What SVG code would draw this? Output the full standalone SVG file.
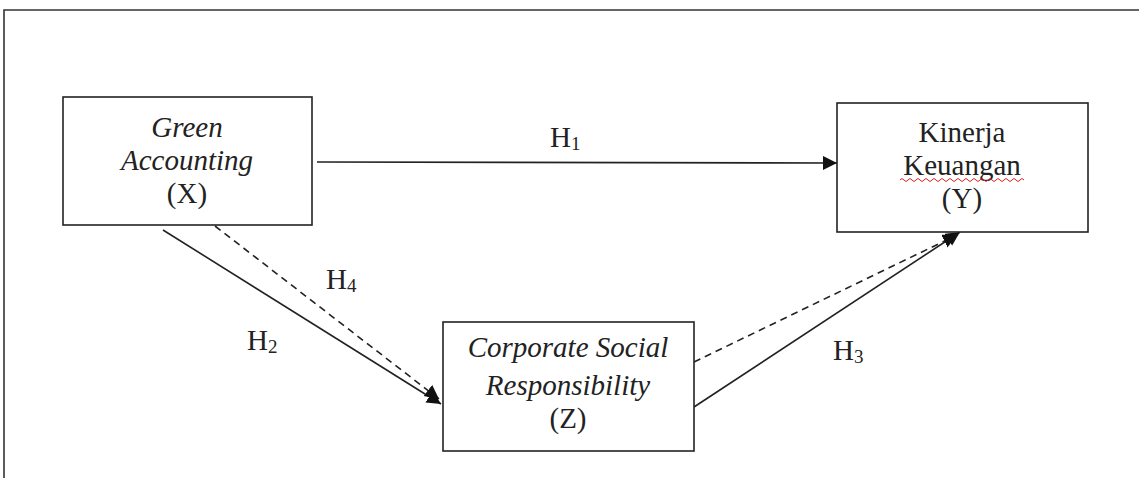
<svg xmlns="http://www.w3.org/2000/svg" width="1139" height="478" viewBox="0 0 1139 478">
<defs>
<style>
.box{fill:#fff;stroke:#222;stroke-width:1.6}
.t{font-family:"Liberation Serif","Times New Roman",serif;font-size:29px;fill:#222;text-anchor:middle}
.i{font-style:italic}
.lbl{font-family:"Liberation Serif","Times New Roman",serif;font-size:29px;fill:#222}
.sub{font-size:19px}
.ln{stroke:#222;stroke-width:1.6;fill:none}
.dash{stroke-dasharray:7 5}
</style>
<marker id="ah" markerUnits="userSpaceOnUse" markerWidth="16" markerHeight="16" refX="14" refY="7" orient="auto">
<path d="M0,0 L14,7 L0,14 Z" fill="#111"/>
</marker>
</defs>
<rect width="1139" height="478" fill="#fff"/>
<path d="M4,478 L4,10 L1139,10" fill="none" stroke="#333" stroke-width="1.6"/>
<g id="connectors">
<line class="ln" x1="317" y1="162" x2="837" y2="163" marker-end="url(#ah)"/>
<line class="ln" x1="163" y1="230" x2="441" y2="404" marker-end="url(#ah)"/>
<line class="ln dash" x1="215" y1="226" x2="439" y2="399" marker-end="url(#ah)"/>
<line class="ln" x1="694" y1="407" x2="960" y2="232" marker-end="url(#ah)"/>
<line class="ln dash" x1="694" y1="362" x2="957" y2="235" marker-end="url(#ah)"/>
<text class="lbl" x="550" y="147">H<tspan class="sub" dy="3">1</tspan></text>
<text class="lbl" x="326" y="289">H<tspan class="sub" dy="3">4</tspan></text>
<text class="lbl" x="247" y="350">H<tspan class="sub" dy="3">2</tspan></text>
<text class="lbl" x="833" y="360">H<tspan class="sub" dy="3">3</tspan></text>
</g>
<g id="node-x">
<rect class="box" x="63" y="97" width="249" height="128"/>
<text class="t i" x="187" y="137">Green</text>
<text class="t i" x="187" y="170">Accounting</text>
<text class="t" x="187" y="203">(X)</text>
</g>
<g id="node-y">
<rect class="box" x="837" y="103" width="251" height="129"/>
<text class="t" x="962" y="142">Kinerja</text>
<text class="t" x="962" y="175">Keuangan</text>
<path d="M900,180 q2,-3 4,0 t4,0 t4,0 t4,0 t4,0 t4,0 t4,0 t4,0 t4,0 t4,0 t4,0 t4,0 t4,0 t4,0 t4,0 t4,0 t4,0 t4,0 t4,0 t4,0 t4,0 t4,0 t4,0 t4,0 t4,0 t4,0 t4,0 t4,0 t4,0 t4,0 t4,0" fill="none" stroke="#e02020" stroke-width="1"/>
<text class="t" x="962" y="208">(Y)</text>
</g>
<g id="node-z">
<rect class="box" x="443" y="322" width="251" height="129"/>
<text class="t i" x="568" y="357">Corporate Social</text>
<text class="t i" x="568" y="395">Responsibility</text>
<text class="t" x="568" y="428">(Z)</text>
</g>
</svg>
